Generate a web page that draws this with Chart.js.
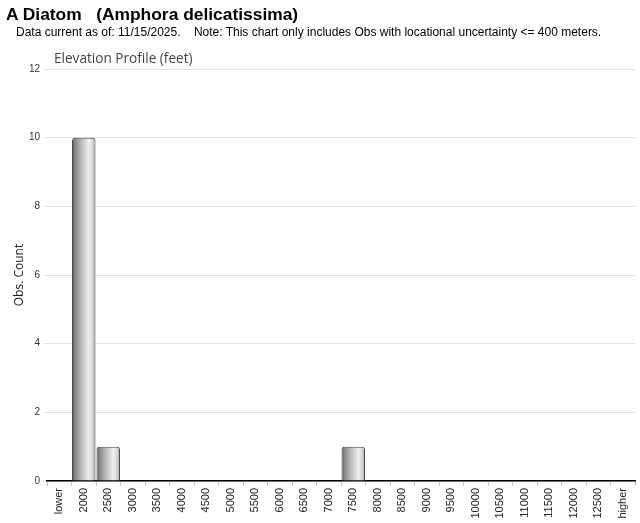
<!DOCTYPE html>
<html>
<head>
<meta charset="utf-8">
<script src="https://cdn.jsdelivr.net/npm/chart.js@4/dist/chart.umd.min.js"></script>
<style>
  html, body { margin: 0; padding: 0; background: #fff; }
  #wrap { position: relative; width: 640px; height: 523px; overflow: hidden; }
  #chart { position: absolute; left: 0; top: 0; }
  .t { position: absolute; white-space: pre; font-family: "Liberation Sans", Arial, sans-serif; color: #000; }
  #h1 { left: 6px; top: 4px; font-size: 17.4px; font-weight: bold; }
  #h2 { left: 16px; top: 25px; font-size: 12px; }
  #h3 { left: 54px; top: 48px; font-size: 13.6px; color: #444; font-family: "Open Sans", sans-serif; }
</style>
</head>
<body>
<div id="wrap">
  <canvas id="chart" width="640" height="523"></canvas>
  <div class="t" id="h1">A Diatom   (Amphora delicatissima)</div>
  <div class="t" id="h2">Data current as of: 11/15/2025.    Note: This chart only includes Obs with locational uncertainty &lt;= 400 meters.</div>
  <div class="t" id="h3">Elevation Profile (feet)</div>
</div>
<script>
const categories = ["lower","2000","2500","3000","3500","4000","4500","5000","5500","6000","6500","7000","7500","8000","8500","9000","9500","10000","10500","11000","11500","12000","12500","higher"];
const obsCounts = [0,10,1,0,0,0,0,0,0,0,0,0,1,0,0,0,0,0,0,0,0,0,0,0];
const yTicks = [0,2,4,6,8,10,12];
const yTitle = "Obs. Count";

const BAR_PCT = 0.96;
function barGradient(ctx) {
  const chart = ctx.chart;
  const xs = chart.scales && chart.scales.x;
  if (!chart.chartArea || !xs) return '#aaaaaa';
  const cx = xs.getPixelForValue(ctx.dataIndex);
  const w = (xs.right - xs.left) / categories.length * BAR_PCT;
  const g = chart.ctx.createLinearGradient(cx - w / 2, 0, cx + w / 2, 0);
  g.addColorStop(0, '#555555');
  g.addColorStop(0.12, '#858585');
  g.addColorStop(0.45, '#c4c4c4');
  g.addColorStop(0.72, '#f0f0f0');
  g.addColorStop(0.9, '#d0d0d0');
  g.addColorStop(1, '#959595');
  return g;
}

new Chart(document.getElementById('chart'), {
  type: 'bar',
  data: {
    labels: categories,
    datasets: [{
      data: obsCounts,
      backgroundColor: barGradient,
      borderColor: '#4a4a4a',
      borderWidth: 1,
      borderRadius: { topLeft: 3, topRight: 3, bottomLeft: 0, bottomRight: 0 },
      borderSkipped: 'bottom',
      barPercentage: BAR_PCT,
      categoryPercentage: 1.0
    }]
  },
  options: {
    responsive: false,
    animation: false,
    events: [],
    layout: { padding: { left: 7, right: 5, top: 69, bottom: 0 } },
    plugins: { legend: { display: false }, tooltip: { enabled: false }, title: { display: false } },
    scales: {
      x: {
        grid: { display: true, drawOnChartArea: false, drawTicks: true, tickLength: 5, color: '#c8c8c8' },
        border: { display: true, color: '#000', width: 1.5 },
        ticks: {
          autoSkip: false, maxRotation: 90, minRotation: 90, padding: 2,
          color: '#222', font: { family: '"Liberation Sans", Arial, sans-serif', size: 11 }
        },
        afterFit: s => { s.height = 42; }
      },
      y: {
        min: 0, max: 12,
        afterBuildTicks: s => { s.ticks = yTicks.map(v => ({ value: v })); },
        grid: { color: '#e2e2e2', tickLength: 4, lineWidth: 1 },
        border: { display: false },
        ticks: {
          padding: 3, color: '#333',
          font: { family: '"Liberation Sans", Arial, sans-serif', size: 10 }
        },
        title: {
          display: true, text: yTitle, color: '#222',
          font: { family: '"Open Sans", sans-serif', size: 12 },
          padding: { top: 5, bottom: 0 }
        },
        afterFit: s => { s.width = 40; }
      }
    }
  }
});
</script>
</body>
</html>
